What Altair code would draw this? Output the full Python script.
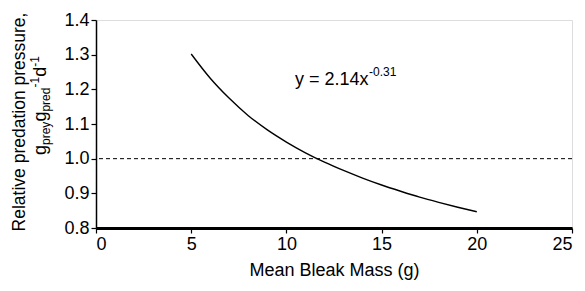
import altair as alt
import pandas as pd

# Curve
mass = [5, 6, 7, 8, 9, 10, 11, 12, 13, 14, 15, 16, 17, 18, 19, 20]
pressure = [1.302, 1.232, 1.174, 1.124, 1.083, 1.048, 1.017, 0.990, 0.966, 0.944, 0.924, 0.906, 0.889, 0.874, 0.860, 0.847]
ref_level = [1.0]
x_ticks = [0, 5, 10, 15, 20, 25]
y_ticks = [0.8, 0.9, 1.0, 1.1, 1.2, 1.3, 1.4]

FONT = "Liberation Sans"
W, H = 476, 208

df = pd.DataFrame({"mass": mass, "pressure": pressure})
ref = pd.DataFrame({"pressure": ref_level})

xs = alt.Scale(domain=[0, 25], nice=False, zero=False)
ys = alt.Scale(domain=[0.8, 1.4], nice=False, zero=False)

y_axis = alt.Axis(title=None, values=y_ticks, format=".1f", grid=False,
                  domainColor="black", domainWidth=1.5, tickColor="black", tickSize=5,
                  tickWidth=1.2, labelFontSize=18, labelColor="black", labelFont=FONT,
                  labelPadding=2, labelOverlap=False)

curve = alt.Chart(df).mark_line(color="black", strokeWidth=1.4, interpolate="monotone").encode(
    x=alt.X("mass:Q", scale=xs,
            axis=alt.Axis(title="Mean Bleak Mass (g)", values=x_ticks, grid=False,
                          domainColor="black", domainWidth=3, tickColor="black", tickSize=5,
                          tickWidth=1.2, labelFontSize=18, labelColor="black", labelFont=FONT,
                          labelPadding=2, labelOverlap=False, titleFont=FONT, titleFontSize=18,
                          titleFontWeight="normal", titleColor="black", titlePadding=8)),
    y=alt.Y("pressure:Q", scale=ys, axis=y_axis),
)

rule = alt.Chart(ref).mark_rule(color="black", strokeWidth=1, strokeDash=[4, 3]).encode(
    y=alt.Y("pressure:Q", scale=ys, axis=y_axis)
)

def txt(s, x, y, size, angle=0, align="left", baseline="alphabetic"):
    return alt.Chart(pd.DataFrame({"t": [s]})).mark_text(
        font=FONT, fontSize=size, color="black", angle=angle, align=align, baseline=baseline
    ).encode(text="t:N", x=alt.value(x), y=alt.value(y))

# equation
eq = txt("y = 2.14x", 199, 65, 18) + txt("-0.31", 273, 56, 12)

# y title (rotated)
bx = -50
title1 = txt("Relative predation pressure,", -71, 102, 17.5, angle=270, align="center")
pieces = [
    ("g", bx, 135, 18),
    ("prey", bx + 4, 125, 12),
    ("g", bx, 101.6, 18),
    ("pred", bx + 4, 91.6, 12),
    ("-1", bx - 7, 67.5, 12),
    ("d", bx, 56.8, 18),
    ("-1", bx - 7, 46.8, 12),
]
title2 = alt.layer(*[txt(s, x, y, sz, angle=270) for s, x, y, sz in pieces])

chart = alt.layer(curve, rule, eq, title1, title2).properties(
    width=W, height=H,
    autosize=alt.AutoSizeParams(type="none"),
    padding={"left": 88, "top": 12, "right": 5, "bottom": 55},
).configure_view(stroke="black", strokeWidth=1.5).configure(font=FONT, background="white")

chart.save("out.html", embed_options={"renderer": "svg", "actions": False})
